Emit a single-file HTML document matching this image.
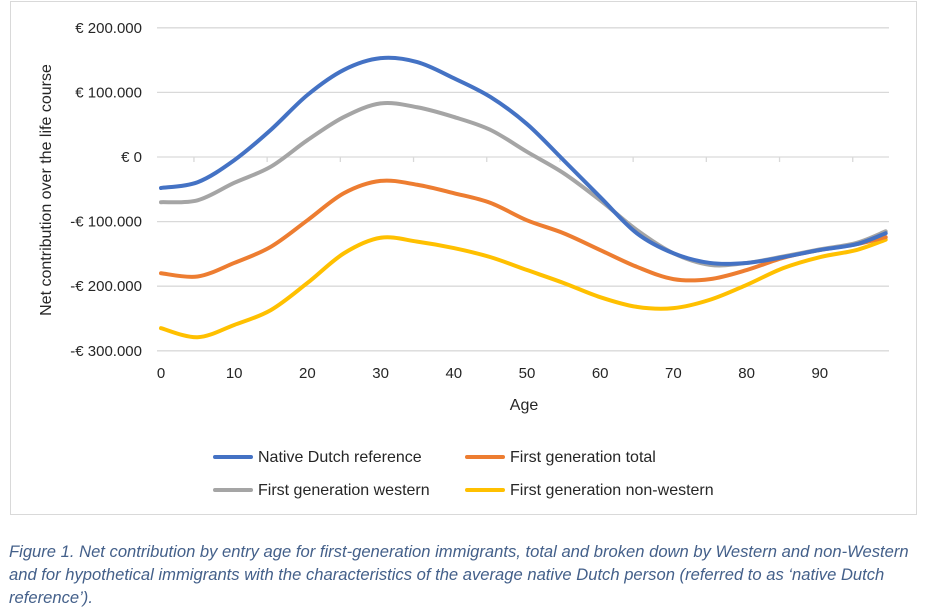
<!DOCTYPE html>
<html><head><meta charset="utf-8"><style>
body{margin:0;background:#fff;width:930px;height:610px;overflow:hidden;font-family:"Liberation Sans",sans-serif}
#frame{position:absolute;left:10px;top:1px;width:905px;height:512px;border:1px solid #d9d9d9}
#cap{position:absolute;left:9px;top:540px;width:920px;font-style:italic;font-size:16.6px;line-height:23px;color:#44608a;white-space:nowrap}
</style></head><body>
<div id="frame"></div>
<svg id="chart" width="930" height="520" style="position:absolute;left:0;top:0"></svg>
<div id="cap">Figure 1. Net contribution by entry age for first-generation immigrants, total and broken down by Western and non-Western<br>and for hypothetical immigrants with the characteristics of the average native Dutch person (referred to as ‘native Dutch<br>reference’).</div>
<script>
const ages=[0,5,10,15,20,25,30,35,40,45,50,55,60,65,70,75,80,85,90,95,99];
const native=[-48,-39,-5,42,96,135,153,147,122,93,51,-5,-62,-118,-149,-164,-164,-155,-144,-135,-118];
const western=[-70,-67,-40,-15,26,62,83,77,62,42,8,-25,-67,-113,-149,-167,-164,-154,-143,-133,-115];
const total=[-180,-185,-164,-139,-98,-56,-37,-43,-56,-71,-98,-118,-144,-170,-189,-189,-175,-156,-144,-135,-124];
const nonwestern=[-265,-279,-260,-237,-195,-149,-125,-131,-141,-155,-175,-195,-217,-232,-234,-221,-198,-172,-155,-144,-128];
const yTicks=[200,100,0,-100,-200,-300];
const yTickLabels=["€ 200.000","€ 100.000","€ 0","-€ 100.000","-€ 200.000","-€ 300.000"];
const xTicks=[0,10,20,30,40,50,60,70,80,90];
const NS="http://www.w3.org/2000/svg";
const svg=document.getElementById('chart');
const X=a=>161+7.32*a;
const Y=v=>157-v*0.646;
function el(t,at){const e=document.createElementNS(NS,t);for(const k in at)e.setAttribute(k,at[k]);svg.appendChild(e);return e;}
yTicks.forEach((v,i)=>{
 const g=el('line',{x1:157,x2:889,y1:Y(v),y2:Y(v),stroke:'#d9d9d9','stroke-width':1.3});
 
 
 const t=el('text',{x:142,y:Y(v)+5,'text-anchor':'end','font-size':15,fill:'#262626'});
 t.textContent=yTickLabels[i];
 
 
});
xTicks.forEach(a=>{
 const tk=el('line',{x1:X(a+4.5),x2:X(a+4.5),y1:Y(0),y2:Y(0)+5,stroke:'#d9d9d9','stroke-width':1.3});
 
 
 const t=el('text',{x:X(a),y:378,'text-anchor':'middle','font-size':15,fill:'#262626'});
 t.textContent=a;
 
 
});
const xt=el('text',{x:524,y:410,'text-anchor':'middle','font-size':16,fill:'#262626'});xt.textContent='Age';


const yt=el('text',{x:0,y:0,'text-anchor':'middle','font-size':16,fill:'#262626',transform:'translate(51,190) rotate(-90)'});yt.textContent='Net contribution over the life course';


function path(vals){
 const p=ages.map((a,i)=>[X(a),Y(vals[i])]);
 let d='M'+p[0][0]+','+p[0][1];
 for(let i=0;i<p.length-1;i++){
  const p0=p[Math.max(0,i-1)],p1=p[i],p2=p[i+1],p3=p[Math.min(p.length-1,i+2)];
  const c1=[p1[0]+(p2[0]-p0[0])/6,p1[1]+(p2[1]-p0[1])/6],c2=[p2[0]-(p3[0]-p1[0])/6,p2[1]-(p3[1]-p1[1])/6];
  d+=` C${c1[0]},${c1[1]} ${c2[0]},${c2[1]} ${p2[0]},${p2[1]}`;
 }
 return d;
}
const series=[[nonwestern,'#ffc000','series-first-generation-non-western'],[total,'#ed7d31','series-first-generation-total'],[western,'#a5a5a5','series-first-generation-western'],[native,'#4472c4','series-native-dutch-reference']];
series.forEach(s=>{
 const l=el('path',{d:path(s[0]),fill:'none',stroke:s[1],'stroke-width':4,'stroke-linecap':'round','stroke-linejoin':'round'});
 
 
});
const leg=[[215,457,'#4472c4','Native Dutch reference'],[467,457,'#ed7d31','First generation total'],[215,490,'#a5a5a5','First generation western'],[467,490,'#ffc000','First generation non-western']];
leg.forEach(g=>{
 const ln=el('line',{x1:g[0],x2:g[0]+36,y1:g[1],y2:g[1],stroke:g[2],'stroke-width':4,'stroke-linecap':'round'});
 
 
 const t=el('text',{x:g[0]+43,y:g[1]+5,'font-size':16,fill:'#262626'});t.textContent=g[3];
 
 
});
</script>
</body></html>
